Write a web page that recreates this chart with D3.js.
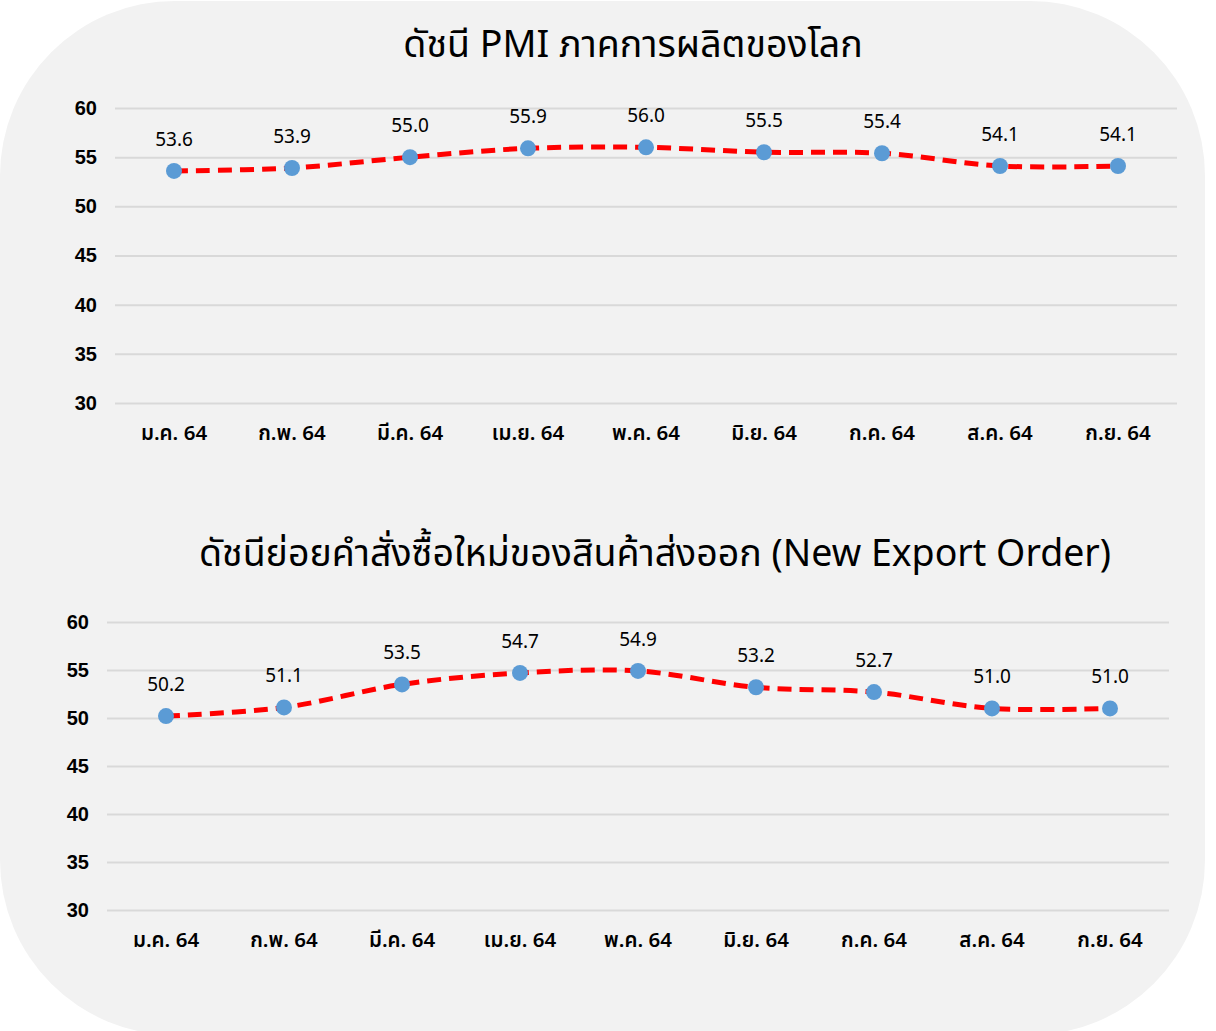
<!DOCTYPE html>
<html><head><meta charset="utf-8">
<script src="https://cdn.jsdelivr.net/npm/d3@7"></script>
<style>
html,body{margin:0;padding:0;background:#fff;}
svg{display:block;}
</style></head>
<body>
<svg id="c" width="1216" height="1031"></svg>
<script>
const months = ["ม.ค. 64","ก.พ. 64","มี.ค. 64","เม.ย. 64","พ.ค. 64","มิ.ย. 64","ก.ค. 64","ส.ค. 64","ก.ย. 64"];
const pmiValues = [53.6,53.9,55.0,55.9,56.0,55.5,55.4,54.1,54.1];
const exportValues = [50.2,51.1,53.5,54.7,54.9,53.2,52.7,51.0,51.0];
const yTicks = [30,35,40,45,50,55,60];
const title1 = "ดัชนี PMI ภาคการผลิตของโลก";
const title2 = "ดัชนีย่อยคำสั่งซื้อใหม่ของสินค้าส่งออก (New Export Order)";

const thaiFont = "'Noto Sans Thai','Noto Sans Thai Looped','Noto Sans','DejaVu Sans',sans-serif";
const numFont = "'Liberation Sans',Arial,sans-serif";

const svg = d3.select("#c");
svg.append("rect").attr("x",0).attr("y",1).attr("width",1205).attr("height",1034)
  .attr("rx",175).attr("ry",175).attr("fill","#f2f2f2");

function drawChart(cfg){
  const g = svg.append("g");
  const x = d3.scaleBand().domain(months).range([cfg.left, cfg.right]);
  const y = d3.scaleLinear().domain([30,60]).range([cfg.bottom, cfg.top]);

  g.append("text").attr("x",cfg.titleX).attr("y",cfg.titleY).attr("text-anchor","middle")
    .attr("font-family",thaiFont).attr("font-size",37.5).attr("fill","#000").text(cfg.title);

  const ya = g.append("g").attr("transform",`translate(${cfg.left},0)`)
    .call(d3.axisLeft(y).tickValues(yTicks).tickSize(-(cfg.right-cfg.left)).tickPadding(18).tickFormat(d3.format("d")));
  ya.select(".domain").remove();
  ya.selectAll(".tick line").attr("stroke","#d9d9d9").attr("stroke-width",2);
  ya.selectAll(".tick text").attr("font-family",numFont).attr("font-weight","bold").attr("font-size",20).attr("fill","#000");

  const xa = g.append("g").attr("transform",`translate(0,${cfg.bottom})`)
    .call(d3.axisBottom(x).tickSize(0).tickPadding(22));
  xa.select(".domain").remove();
  xa.selectAll(".tick text").attr("font-family",thaiFont).attr("font-weight","600").attr("font-size",20.5).attr("fill","#000");

  const cx = d => x(d.m) + x.bandwidth()/2;
  const data = months.map((m,i)=>({m, v: cfg.values[i]}));
  const line = d3.line().x(cx).y(d=>y(d.v)).curve(d3.curveCatmullRom.alpha(0.5));
  g.append("path").datum(data).attr("d",line).attr("fill","none")
    .attr("stroke","#ff0000").attr("stroke-width",5).attr("stroke-dasharray","14,8");
  g.selectAll("circle.pt").data(data).join("circle").attr("class","pt")
    .attr("cx",cx).attr("cy",d=>y(d.v)).attr("r",8).attr("fill","#5b9bd5");
  g.selectAll("text.lbl").data(data).join("text").attr("class","lbl")
    .attr("x",cx).attr("y",d=>y(d.v)-25).attr("text-anchor","middle")
    .attr("font-family",thaiFont).attr("font-size",19).attr("fill","#000")
    .text(d=>d.v.toFixed(1));
}

drawChart({title:title1, titleX:633, titleY:57, left:115, right:1177, top:108, bottom:403, values:pmiValues});
drawChart({title:title2, titleX:655, titleY:566, left:107, right:1169, top:622, bottom:910, values:exportValues});
</script>
</body></html>
